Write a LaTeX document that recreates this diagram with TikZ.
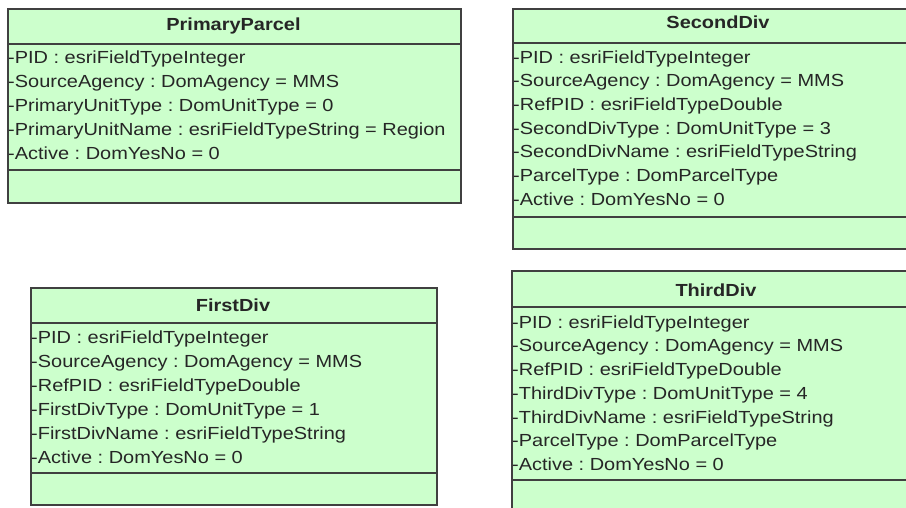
\documentclass[tikz,border=0pt]{standalone}
\usepackage{fontspec}
\setmainfont{Liberation Sans}
\usetikzlibrary{shadows}
\frenchspacing

\begin{document}
\begin{tikzpicture}[x=1pt, y=-1pt,
    class box/.style={draw=black!75, line width=1.6pt, fill=green!20!white,
                      anchor=north west, inner sep=0pt,
                      drop shadow={shadow xshift=1.5pt, shadow yshift=-1.5pt, fill=black!35, opacity=0.6}},
    title/.style={anchor=base, inner sep=0pt, xscale=1.14,
                  font=\fontsize{17.5}{24}\selectfont\bfseries, text=black!85},
    attr/.style={anchor=base west, inner sep=0pt, xscale=1.14,
                 font=\fontsize{17.5}{24}\selectfont, text=black!85},
    sep/.style={draw=black!75, line width=1.6pt}]

  \useasboundingbox (0,0) rectangle (906,508);
  \clip (0,0) rectangle (906,508);

  % PrimaryParcel
  \node[class box, minimum width=453pt, minimum height=194pt] (pp) at (7,8) {};
  \draw[sep] (pp.west |- 0,44) -- (pp.east |- 0,44);
  \draw[sep] (pp.west |- 0,170) -- (pp.east |- 0,170);
  \node[title] (pp-t) at (233.5,31) {PrimaryParcel};
  \foreach \t [count=\i] in {-PID : esriFieldTypeInteger,
      -SourceAgency : DomAgency = MMS,
      -PrimaryUnitType : DomUnitType = 0,
      -PrimaryUnitName : esriFieldTypeString = Region,
      -Active : DomYesNo = 0}
    \node[attr] (pp-\i) at (8, 39.5+24*\i) {\t};

  % SecondDiv
  \node[class box, minimum width=412pt, minimum height=240pt] (sd) at (512,8) {};
  \draw[sep] (sd.west |- 0,43) -- (sd.east |- 0,43);
  \draw[sep] (sd.west |- 0,217) -- (sd.east |- 0,217);
  \node[title] (sd-t) at (718,29) {SecondDiv};
  \foreach \t [count=\i] in {-PID : esriFieldTypeInteger,
      -SourceAgency : DomAgency = MMS,
      -RefPID : esriFieldTypeDouble,
      -SecondDivType : DomUnitType = 3,
      -SecondDivName : esriFieldTypeString,
      -ParcelType : DomParcelType,
      -Active : DomYesNo = 0}
    \node[attr] (sd-\i) at (513, 39.5+23.7*\i) {\t};

  % FirstDiv
  \node[class box, minimum width=406pt, minimum height=217pt] (fd) at (30,287) {};
  \draw[sep] (fd.west |- 0,323) -- (fd.east |- 0,323);
  \draw[sep] (fd.west |- 0,473) -- (fd.east |- 0,473);
  \node[title] (fd-t) at (233,311) {FirstDiv};
  \foreach \t [count=\i] in {-PID : esriFieldTypeInteger,
      -SourceAgency : DomAgency = MMS,
      -RefPID : esriFieldTypeDouble,
      -FirstDivType : DomUnitType = 1,
      -FirstDivName : esriFieldTypeString,
      -Active : DomYesNo = 0}
    \node[attr] (fd-\i) at (31, 319.5+24*\i) {\t};

  % ThirdDiv
  \node[class box, minimum width=410pt, minimum height=260pt] (td) at (511,270) {};
  \draw[sep] (td.west |- 0,307) -- (td.east |- 0,307);
  \draw[sep] (td.west |- 0,480) -- (td.east |- 0,480);
  \node[title] (td-t) at (716,296) {ThirdDiv};
  \foreach \t [count=\i] in {-PID : esriFieldTypeInteger,
      -SourceAgency : DomAgency = MMS,
      -RefPID : esriFieldTypeDouble,
      -ThirdDivType : DomUnitType = 4,
      -ThirdDivName : esriFieldTypeString,
      -ParcelType : DomParcelType,
      -Active : DomYesNo = 0}
    \node[attr] (td-\i) at (512, 304.5+23.7*\i) {\t};
\end{tikzpicture}
\end{document}
